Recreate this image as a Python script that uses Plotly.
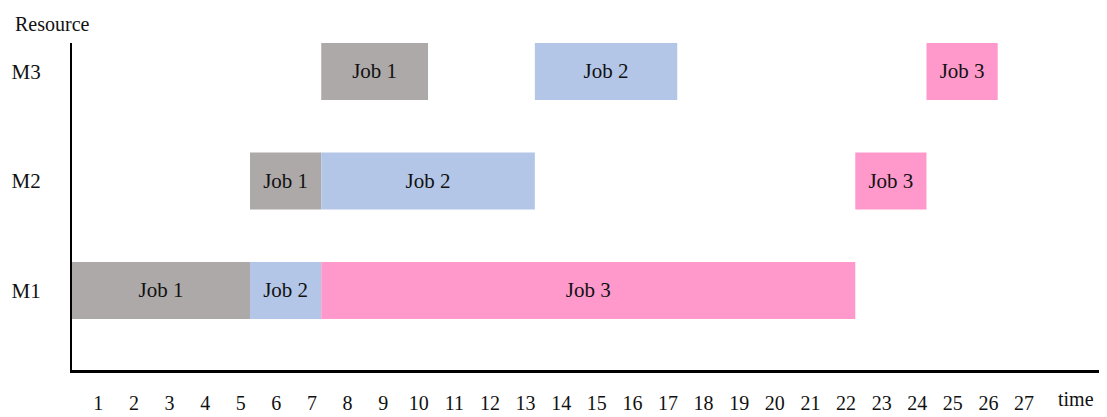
import plotly.graph_objects as go

resources = ["M1", "M2", "M3"]
jobs = ["Job 1", "Job 2", "Job 3"]
# start / end times per job on each resource (M1, M2, M3)
job_start = {
    "Job 1": [0, 5, 7],
    "Job 2": [5, 7, 13],
    "Job 3": [7, 22, 24],
}
job_end = {
    "Job 1": [5, 7, 10],
    "Job 2": [7, 13, 17],
    "Job 3": [22, 24, 26],
}
job_colors = {"Job 1": "#ADA9A8", "Job 2": "#B4C6E7", "Job 3": "#FF99CC"}
time_labels = [str(i) for i in range(1, 28)]
time_ticks = [i - 0.26 for i in range(1, 28)]

FONT = "Liberation Serif"

fig = go.Figure()
for job in jobs:
    starts = job_start[job]
    ends = job_end[job]
    fig.add_trace(go.Bar(
        y=resources,
        x=[e - s for s, e in zip(starts, ends)],
        base=starts,
        orientation="h",
        width=0.52,
        marker=dict(color=job_colors[job], line=dict(width=0)),
        text=[job] * len(resources),
        textposition="inside",
        insidetextanchor="middle",
        textangle=0,
        constraintext="none",
        insidetextfont=dict(family=FONT, size=21, color="#111111"),
        textfont=dict(family=FONT, size=21, color="#111111"),
        name=job,
        showlegend=False,
    ))

fig.update_layout(
    template="none",
    width=1099, height=409,
    margin=dict(l=64, r=0, t=35, b=47, pad=0),
    paper_bgcolor="white", plot_bgcolor="white",
    barmode="overlay",
    font=dict(family=FONT, size=21, color="#111111"),
    xaxis=dict(
        range=[0, 29.07], automargin=False,
        tickvals=time_ticks, ticktext=time_labels,
        showgrid=False, zeroline=False,
        showline=True, linecolor="black", linewidth=3,
        ticks="", ticklabelstandoff=13,
        tickfont=dict(family=FONT, size=20, color="#111111"),
        fixedrange=True,
    ),
    yaxis=dict(
        range=[-0.726, 2.26], automargin=False,
        categoryorder="array", categoryarray=resources,
        showgrid=False, zeroline=False,
        showline=True, linecolor="black", linewidth=2,
        ticks="", ticklabelstandoff=25,
        tickfont=dict(family=FONT, size=21, color="#111111"),
        fixedrange=True,
    ),
    annotations=[
        dict(text="Resource", xref="paper", yref="paper", x=-0.057, y=1.0,
             xanchor="left", yanchor="bottom", yshift=6, showarrow=False,
             font=dict(family=FONT, size=20, color="#111111")),
        dict(text="time", xref="x", yref="paper", x=28.2, y=0,
             xanchor="center", yanchor="top", yshift=-16, showarrow=False,
             font=dict(family=FONT, size=20, color="#111111")),
    ],
)

fig.write_html("out.html")
